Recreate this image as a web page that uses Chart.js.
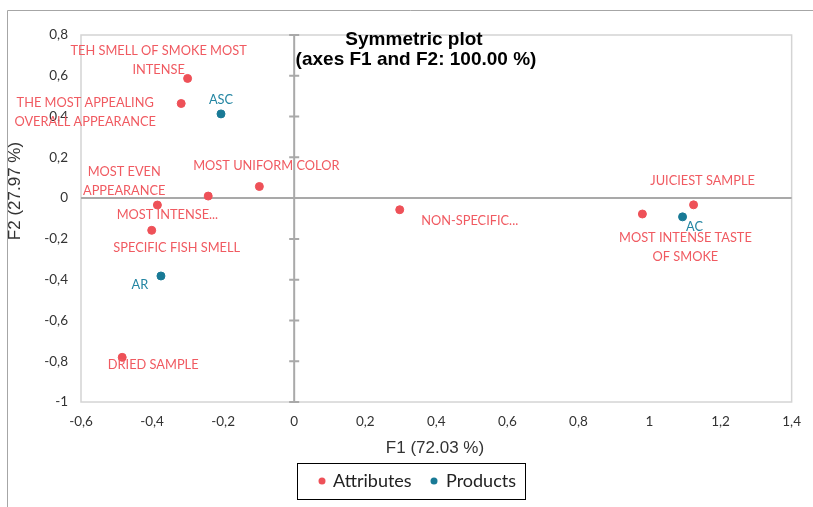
<!DOCTYPE html>
<html>
<head>
<meta charset="utf-8">
<script src="https://cdn.jsdelivr.net/npm/chart.js@4/dist/chart.umd.min.js"></script>
<style>
  html, body { margin: 0; padding: 0; background: #fff; }
  #wrap { width: 813px; height: 507px; position: relative; }
</style>
</head>
<body>
<div id="wrap"><canvas id="plot"></canvas></div>
<script>
// Attributes (red) and products (teal), F1 / F2 coordinates
var attrNames = [
    "TEH SMELL OF SMOKE MOST\nINTENSE",
    "THE MOST APPEALING\nOVERALL APPEARANCE",
    "MOST UNIFORM COLOR",
    "MOST EVEN\nAPPEARANCE",
    "MOST INTENSE...",
    "SPECIFIC FISH SMELL",
    "DRIED SAMPLE",
    "NON-SPECIFIC...",
    "MOST INTENSE TASTE\nOF SMOKE",
    "JUICIEST SAMPLE"
];
var attrF1 = [-0.300, -0.318, -0.098, -0.242, -0.385, -0.401, -0.484, 0.297, 0.980, 1.124];
var attrF2 = [0.587, 0.464, 0.057, 0.010, -0.034, -0.158, -0.781, -0.057, -0.078, -0.033];

var prodNames = ["ASC", "AR", "AC"];
var prodF1 = [-0.206, -0.375, 1.093];
var prodF2 = [0.413, -0.382, -0.092];

var seriesNames = ["Attributes", "Products"];

// where each label sits relative to its point (px)
var attrLabelShift = [[-29, -18], [-96, 9], [7, -21], [-84, -15], [10, 10], [25, 18], [31, 8], [70, 11], [43, 33], [9, -24]];
var prodLabelShift = [[0, -14], [-21, 9], [12, 10]];

var red = "#EE5158";
var redText = "#F05A61";
var teal = "#197A96";
var tealText = "#2385A2";
var lblFont = "12.8px Lato, 'Open Sans', sans-serif";

function toPts(xs, ys) {
    var pts = [];
    for (var i = 0; i < xs.length; i++) {
        pts.push({ x: xs[i], y: ys[i] });
    }
    return pts;
}

function commaNum(v) {
    var r = Math.round(v * 10) / 10;
    if (Math.abs(r) < 1e-9) r = 0;
    return String(r).replace(".", ",");
}

var decorPlugin = {
    id: "decor",
    beforeDatasetsDraw: function (chart) {
        var ctx = chart.ctx;
        var a = chart.chartArea;
        var xs = chart.scales.x;
        var ys = chart.scales.y;
        ctx.save();
        // outer frame
        ctx.strokeStyle = "#a6a6a6";
        ctx.lineWidth = 1;
        ctx.beginPath();
        ctx.moveTo(7.5, 507);
        ctx.lineTo(7.5, 10.5);
        ctx.lineTo(813, 10.5);
        ctx.stroke();
        // plot area border
        ctx.strokeStyle = "#d4d4d4";
        ctx.lineWidth = 1.5;
        ctx.strokeRect(a.left, a.top, a.right - a.left, a.bottom - a.top);
        // zero axes
        var x0 = xs.getPixelForValue(0);
        var y0 = ys.getPixelForValue(0);
        ctx.strokeStyle = "#a9a9a9";
        ctx.lineWidth = 2;
        ctx.beginPath();
        ctx.moveTo(x0, a.top);
        ctx.lineTo(x0, a.bottom);
        ctx.moveTo(a.left, y0);
        ctx.lineTo(a.right, y0);
        ys.ticks.forEach(function (t) {
            var py = ys.getPixelForValue(t.value);
            ctx.moveTo(x0 - 5, py);
            ctx.lineTo(x0 + 5, py);
        });
        ctx.stroke();
        ctx.restore();
    },
    afterDatasetsDraw: function (chart) {
        var ctx = chart.ctx;
        ctx.save();
        ctx.font = lblFont;
        ctx.textAlign = "center";
        ctx.textBaseline = "middle";
        var sets = [
            { names: attrNames, shift: attrLabelShift, color: redText },
            { names: prodNames, shift: prodLabelShift, color: tealText }
        ];
        sets.forEach(function (s, di) {
            var meta = chart.getDatasetMeta(di);
            ctx.fillStyle = s.color;
            meta.data.forEach(function (el, i) {
                var lines = s.names[i].split("\n");
                var cx = el.x + s.shift[i][0];
                var cy = el.y + s.shift[i][1];
                var lh = 19;
                var top = cy - (lines.length - 1) * lh / 2;
                lines.forEach(function (ln, k) {
                    ctx.fillText(ln, cx, top + k * lh);
                });
            });
        });

        // chart title
        ctx.fillStyle = "#000";
        ctx.font = "bold 19px 'Liberation Sans', Arial, sans-serif";
        ctx.fillText("Symmetric plot", 414, 40);
        ctx.fillText("(axes F1 and F2: 100.00 %)", 416, 60);

        // axis titles
        ctx.fillStyle = "#333";
        ctx.font = "17px 'Liberation Sans', Arial, sans-serif";
        ctx.fillText("F1 (72.03 %)", 435, 448);
        ctx.save();
        ctx.translate(15, 191);
        ctx.rotate(-Math.PI / 2);
        ctx.fillText("F2 (27.97 %)", 0, 0);
        ctx.restore();

        // legend
        ctx.strokeStyle = "#000";
        ctx.lineWidth = 1;
        ctx.strokeRect(297.5, 463.5, 228, 36);
        ctx.font = "18px Lato, 'Open Sans', sans-serif";
        ctx.textAlign = "left";
        var items = [
            { x: 322, tx: 333, c: red, t: seriesNames[0] },
            { x: 434, tx: 446, c: teal, t: seriesNames[1] }
        ];
        items.forEach(function (it) {
            ctx.fillStyle = it.c;
            ctx.beginPath();
            ctx.arc(it.x, 481, 3.5, 0, Math.PI * 2);
            ctx.fill();
            ctx.fillStyle = "#222";
            ctx.fillText(it.t, it.tx, 481);
        });
        ctx.restore();
    }
};

new Chart(document.getElementById("plot"), {
    type: "scatter",
    data: {
        datasets: [
            {
                label: seriesNames[0],
                data: toPts(attrF1, attrF2),
                backgroundColor: red,
                borderColor: red,
                pointRadius: 4,
                pointHoverRadius: 4
            },
            {
                label: seriesNames[1],
                data: toPts(prodF1, prodF2),
                backgroundColor: teal,
                borderColor: teal,
                pointRadius: 4,
                pointHoverRadius: 4
            }
        ]
    },
    options: {
        responsive: true,
        maintainAspectRatio: false,
        animation: false,
        events: [],
        layout: { padding: { left: 0, right: 19, top: 35, bottom: 0 } },
        plugins: {
            legend: { display: false },
            tooltip: { enabled: false }
        },
        scales: {
            x: {
                type: "linear",
                min: -0.6,
                max: 1.4,
                afterFit: function (s) { s.height = 105; },
                grid: { display: false, drawTicks: false },
                border: { display: false },
                ticks: {
                    stepSize: 0.2,
                    padding: 12,
                    color: "#333",
                    font: { family: "Lato, 'Open Sans', sans-serif", size: 13.5 },
                    callback: function (v) { return commaNum(v); }
                }
            },
            y: {
                type: "linear",
                min: -1,
                max: 0.8,
                afterFit: function (s) { s.width = 81; },
                grid: { display: false, drawTicks: false },
                border: { display: false },
                ticks: {
                    stepSize: 0.2,
                    padding: 13,
                    color: "#333",
                    font: { family: "Lato, 'Open Sans', sans-serif", size: 13.5 },
                    callback: function (v) { return commaNum(v); }
                }
            }
        }
    },
    plugins: [decorPlugin]
});
</script>
</body>
</html>
